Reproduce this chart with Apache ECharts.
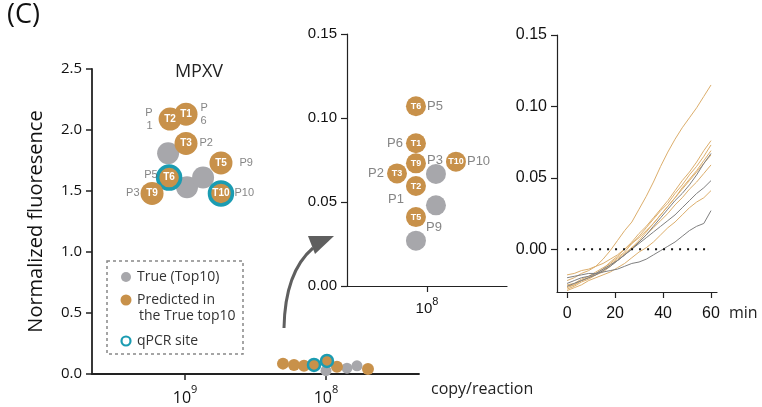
<!DOCTYPE html>
<html>
<head>
<meta charset="utf-8">
<script src="https://cdn.jsdelivr.net/npm/echarts@6/dist/echarts.min.js"></script>
<style>
  html, body { margin: 0; padding: 0; background: #ffffff; }
  #chart { width: 762px; height: 407px; }
</style>
</head>
<body>
<div id="chart"></div>
<script>
// ---- Data -----------------------------------------------------------------
// Predicted target sites (T) and their true rank (P), log10 copy/reaction and
// normalized fluorescence.
const predNames = ['T1', 'T2', 'T3', 'T5', 'T6', 'T9', 'T10'];
const predSites = ['P6', 'P1', 'P2', 'P9', 'P5', 'P3', 'P10'];
const qpcrSites = ['T6', 'T10'];

// High-load cluster (about 10^9 copies)
const highPredLog = [8.993, 9.106, 8.993, 8.745, 9.113, 9.234, 8.745];
const highPredFluo = [2.13, 2.09, 1.89, 1.73, 1.61, 1.48, 1.48];
const highTrueLog = [9.12, 8.986, 8.872];
const highTrueFluo = [1.81, 1.53, 1.61];

// Low-load cluster (about 10^8 copies)
const lowPredLog = [8.305, 7.922, 8.156, 7.702, 7.993, 8.227, 8.085];
const lowPredFluo = [0.085, 0.0595, 0.067, 0.041, 0.107, 0.073, 0.074];
const lowTrueLog = [7.851, 7.78, 8.0];
const lowTrueFluo = [0.048, 0.0667, 0.027];

// Zoomed view of the low-load cluster
const zoomPredLog = [8.069, 8.069, 8.1875, 8.069, 8.069, 8.069, 7.819];
const zoomTrueLog = [7.944, 7.944, 8.069];

// Axis ticks
const mainYTicks = [0, 0.5, 1.0, 1.5, 2.0, 2.5];
const logTicksMain = [8, 9];
const logTicksZoom = [8];
const zoomYTicks = [0, 0.05, 0.10, 0.15];
const timeTicks = [0, 20, 40, 60];

// Real-time fluorescence traces (min)
const traceTime = [0, 3, 6, 9, 12, 15, 18, 21, 24, 27, 30, 33, 36, 39, 42, 45, 48, 51, 54, 57, 60];
const tracePredA = [-0.022, -0.020, -0.017, -0.015, -0.012, -0.007, -0.001, 0.006, 0.013, 0.019, 0.028, 0.037, 0.047, 0.058, 0.068, 0.077, 0.085, 0.092, 0.099, 0.107, 0.115];
const tracePredB = [-0.027, -0.025, -0.022, -0.020, -0.017, -0.014, -0.009, -0.005, 0.000, 0.005, 0.011, 0.016, 0.022, 0.028, 0.034, 0.041, 0.048, 0.054, 0.061, 0.069, 0.076];
const tracePredC = [-0.025, -0.024, -0.021, -0.019, -0.016, -0.013, -0.010, -0.006, -0.002, 0.004, 0.009, 0.015, 0.021, 0.027, 0.032, 0.039, 0.045, 0.052, 0.058, 0.065, 0.073];
const tracePredD = [-0.018, -0.017, -0.015, -0.014, -0.012, -0.010, -0.007, -0.004, 0.000, 0.004, 0.008, 0.013, 0.018, 0.024, 0.030, 0.036, 0.043, 0.049, 0.055, 0.062, 0.069];
const tracePredE = [-0.028, -0.026, -0.023, -0.021, -0.018, -0.016, -0.012, -0.008, -0.004, 0.001, 0.006, 0.012, 0.018, 0.024, 0.030, 0.036, 0.042, 0.048, 0.054, 0.060, 0.066];
const tracePredF = [-0.026, -0.025, -0.022, -0.020, -0.018, -0.015, -0.011, -0.007, -0.003, 0.001, 0.005, 0.010, 0.015, 0.020, 0.025, 0.031, 0.036, 0.042, 0.047, 0.053, 0.059];
const tracePredG = [-0.029, -0.027, -0.025, -0.022, -0.020, -0.018, -0.016, -0.013, -0.010, -0.006, -0.002, 0.001, 0.005, 0.010, 0.015, 0.019, 0.024, 0.029, 0.033, 0.036, 0.041];
const traceTrueH = [-0.026, -0.024, -0.022, -0.020, -0.018, -0.015, -0.012, -0.008, -0.004, 0.000, 0.005, 0.010, 0.016, 0.022, 0.028, 0.034, 0.039, 0.045, 0.052, 0.060, 0.067];
const traceTrueI = [-0.024, -0.022, -0.020, -0.019, -0.017, -0.014, -0.011, -0.008, -0.004, 0.000, 0.004, 0.008, 0.012, 0.016, 0.020, 0.024, 0.029, 0.034, 0.039, 0.043, 0.048];
const traceTrueJ = [-0.020, -0.019, -0.018, -0.017, -0.017, -0.016, -0.015, -0.014, -0.012, -0.010, -0.009, -0.007, -0.004, -0.001, 0.002, 0.005, 0.009, 0.013, 0.016, 0.018, 0.027];
const baselineTime = [0, 60];
const baselineValue = [0, 0];

// ---- Styles ---------------------------------------------------------------
const ORANGE = '#c8914a';
const GRAY = '#a7a7ab';
const TEAL = '#1b9cb2';
const LINE_ORANGE = '#dcae6c';
const LINE_GRAY = '#7f7f80';
const AXIS = '#222222';
const SITE_COLOR = '#666666';
const FONT_MAIN = '"Open Sans", "Noto Sans", sans-serif';
const FONT_SUB = '"Liberation Sans", Arial, sans-serif';

// Placement of the P-rank labels around each circle
const siteLabelHigh = {
  P6: { position: 'right', distance: 3, text: 'P\n6' },
  P1: { position: 'left', distance: 6, text: 'P\n1' },
  P2: { position: 'right', distance: 2 },
  P9: { position: 'right', distance: 7 },
  P5: { position: 'left', distance: 0, offset: [0, -3] },
  P3: { position: 'left', distance: 1 },
  P10: { position: 'right', distance: 2 }
};
const siteLabelZoom = {
  P6: { position: 'left', distance: 3 },
  P1: { position: 'left', distance: 2, offset: [0, 13] },
  P2: { position: 'left', distance: 3 },
  P9: { position: 'right', distance: 0, offset: [0, 10] },
  P5: { position: 'right', distance: 1 },
  P3: { position: 'right', distance: 1, offset: [0, -3] },
  P10: { position: 'right', distance: 1 }
};

// ---- Helpers ----------------------------------------------------------------
function zip(xs, ys) { return xs.map((x, i) => [x, ys[i]]); }

function predItems(xs, ys, ringWidth) {
  return predNames.map((n, i) => {
    const ringed = ringWidth > 0 && qpcrSites.includes(n);
    return {
      name: n,
      value: [xs[i], ys[i]],
      itemStyle: ringed ? { borderColor: TEAL, borderWidth: ringWidth } : {},
      z: ringed ? 5 : 4
    };
  });
}

function siteItems(xs, ys, placement, fontSize) {
  return predSites.map((s, i) => {
    const p = placement[s];
    return {
      name: s,
      value: [xs[i], ys[i]],
      label: {
        show: true,
        position: p.position,
        distance: p.distance,
        offset: p.offset || [0, 0],
        formatter: p.text || s,
        color: SITE_COLOR,
        fontSize: fontSize,
        lineHeight: fontSize + 2,
        fontFamily: FONT_SUB
      }
    };
  });
}

function supLabel(v) { return '{b|10}{s|' + v + '}'; }

function valueAxisBase(grid) {
  return {
    gridIndex: grid,
    type: 'value',
    splitLine: { show: false },
    axisLine: { show: true, onZero: false, lineStyle: { color: AXIS, width: 1.2 } },
    axisTick: { show: true, length: 6, lineStyle: { color: AXIS, width: 1.2 } }
  };
}

// ---- Chart ----------------------------------------------------------------
const chart = echarts.init(document.getElementById('chart'), null, { renderer: 'canvas' });

const traceSeries = [
  [tracePredA, LINE_ORANGE], [tracePredB, LINE_ORANGE], [tracePredC, LINE_ORANGE],
  [tracePredD, LINE_ORANGE], [tracePredE, LINE_ORANGE], [tracePredF, LINE_ORANGE],
  [tracePredG, LINE_ORANGE],
  [traceTrueH, LINE_GRAY], [traceTrueI, LINE_GRAY], [traceTrueJ, LINE_GRAY]
].map(([vals, color]) => ({
  type: 'line',
  xAxisIndex: 2, yAxisIndex: 2,
  data: zip(traceTime, vals),
  showSymbol: false,
  silent: true,
  lineStyle: { color: color, width: 1 },
  z: color === LINE_GRAY ? 3 : 2
}));

const HIDDEN = 'rgba(0,0,0,0)';

const option = {
  animation: false,
  backgroundColor: '#ffffff',
  grid: [
    { left: 92, top: 69, width: 327, height: 305 },
    { left: 347, top: 34, width: 160, height: 252 },
    { left: 557, top: 35, width: 160, height: 257 }
  ],
  xAxis: [
    Object.assign(valueAxisBase(0), {
      min: 7.34, max: 9.66, inverse: true,
      axisLine: { show: true, onZero: false, lineStyle: { color: AXIS, width: 1.8 } },
      axisTick: { show: true, length: 6, customValues: logTicksMain, lineStyle: { color: AXIS, width: 1.5 } },
      axisLabel: {
        customValues: logTicksMain, margin: 8, formatter: supLabel,
        rich: {
          b: { fontSize: 16, fontFamily: FONT_MAIN, color: '#111', padding: [8, 0, 0, 0] },
          s: { fontSize: 11, fontFamily: FONT_MAIN, color: '#111', padding: [0, 0, 8, 0] }
        }
      }
    }),
    Object.assign(valueAxisBase(1), {
      min: 7.5, max: 8.5, inverse: true,
      axisTick: { show: true, length: 6, customValues: logTicksZoom, lineStyle: { color: AXIS, width: 1.2 } },
      axisLabel: {
        customValues: logTicksZoom, margin: 8, formatter: supLabel,
        rich: {
          b: { fontSize: 15, fontFamily: FONT_SUB, color: '#111', padding: [7, 0, 0, 0] },
          s: { fontSize: 11, fontFamily: FONT_SUB, color: '#111', padding: [0, 0, 7, 0] }
        }
      }
    }),
    Object.assign(valueAxisBase(2), {
      min: -4.2, max: 62.5,
      axisTick: { show: true, length: 6, customValues: timeTicks, lineStyle: { color: AXIS, width: 1.2 } },
      axisLabel: {
        customValues: timeTicks, margin: 14,
        fontSize: 16, fontFamily: FONT_SUB, color: '#111'
      }
    })
  ],
  yAxis: [
    Object.assign(valueAxisBase(0), {
      min: mainYTicks[0], max: mainYTicks[mainYTicks.length - 1], interval: 0.5,
      axisLine: { show: true, onZero: false, lineStyle: { color: AXIS, width: 1.8 } },
      axisTick: { show: true, length: 6, lineStyle: { color: AXIS, width: 1.5 } },
      axisLabel: { margin: 10, fontSize: 15, fontFamily: FONT_MAIN, color: '#111', formatter: v => v.toFixed(1) },
      name: 'Normalized fluoresence',
      nameLocation: 'middle',
      nameGap: 46,
      nameTextStyle: { fontSize: 20, fontFamily: FONT_MAIN, color: '#111' }
    }),
    Object.assign(valueAxisBase(1), {
      min: zoomYTicks[0], max: zoomYTicks[zoomYTicks.length - 1], interval: 0.05,
      axisLabel: { margin: 10, fontSize: 15, fontFamily: FONT_SUB, color: '#111', formatter: v => v.toFixed(2) }
    }),
    Object.assign(valueAxisBase(2), {
      min: -0.03, max: 0.15,
      axisTick: { show: true, length: 6, customValues: zoomYTicks, lineStyle: { color: AXIS, width: 1.2 } },
      axisLabel: {
        customValues: zoomYTicks, margin: 10, fontSize: 16, fontFamily: FONT_SUB, color: '#111',
        formatter: v => v.toFixed(2)
      }
    })
  ],
  series: [
    // --- main panel, high-load cluster
    {
      type: 'scatter', xAxisIndex: 0, yAxisIndex: 0, silent: true,
      data: zip(highTrueLog, highTrueFluo), symbolSize: 22,
      itemStyle: { color: GRAY, opacity: 1 }, z: 3
    },
    {
      type: 'scatter', xAxisIndex: 0, yAxisIndex: 0, silent: true,
      data: predItems(highPredLog, highPredFluo, 3.5), symbolSize: 23,
      itemStyle: { color: ORANGE, opacity: 1 }, z: 4,
      label: {
        show: true, position: 'inside', formatter: '{b}',
        color: '#ffffff', fontSize: 10, fontWeight: 'bold', fontFamily: FONT_SUB
      }
    },
    {
      type: 'scatter', xAxisIndex: 0, yAxisIndex: 0, silent: true,
      data: siteItems(highPredLog, highPredFluo, siteLabelHigh, 11), symbolSize: 23,
      itemStyle: { color: HIDDEN, borderWidth: 0 }, z: 6
    },
    // --- main panel, low-load cluster
    {
      type: 'scatter', xAxisIndex: 0, yAxisIndex: 0, silent: true,
      data: zip(lowTrueLog, lowTrueFluo), symbolSize: 11,
      itemStyle: { color: GRAY, opacity: 1 }, z: 3
    },
    {
      type: 'scatter', xAxisIndex: 0, yAxisIndex: 0, silent: true,
      data: predItems(lowPredLog, lowPredFluo, 2.5), symbolSize: 12,
      itemStyle: { color: ORANGE, opacity: 1 }, z: 4
    },
    // --- zoomed view
    {
      type: 'scatter', xAxisIndex: 1, yAxisIndex: 1, silent: true,
      data: zip(zoomTrueLog, lowTrueFluo), symbolSize: 20,
      itemStyle: { color: GRAY, opacity: 1 }, z: 3
    },
    {
      type: 'scatter', xAxisIndex: 1, yAxisIndex: 1, silent: true,
      data: predItems(zoomPredLog, lowPredFluo, 0), symbolSize: 20,
      itemStyle: { color: ORANGE, opacity: 1 }, z: 4,
      label: {
        show: true, position: 'inside', formatter: '{b}',
        color: '#ffffff', fontSize: 9, fontWeight: 'bold', fontFamily: FONT_SUB
      }
    },
    {
      type: 'scatter', xAxisIndex: 1, yAxisIndex: 1, silent: true,
      data: siteItems(zoomPredLog, lowPredFluo, siteLabelZoom, 13), symbolSize: 20,
      itemStyle: { color: HIDDEN, borderWidth: 0 }, z: 6
    },
    // --- fluorescence traces
    ...traceSeries,
    {
      type: 'line', xAxisIndex: 2, yAxisIndex: 2, silent: true,
      data: zip(baselineTime, baselineValue), showSymbol: false,
      lineStyle: { color: '#111111', width: 2, type: [2, 6] }, z: 5
    }
  ],
  graphic: [
    { type: 'text', left: 7, top: 2, style: { text: '(C)', fontSize: 27, fontFamily: FONT_MAIN, fill: '#111' } },
    { type: 'text', x: 199, y: 72, style: { text: 'MPXV', fontSize: 18, fontFamily: FONT_MAIN, fill: '#222', align: 'center', verticalAlign: 'middle' } },
    { type: 'text', x: 431, y: 389, style: { text: 'copy/reaction', fontSize: 16, fontFamily: FONT_MAIN, fill: '#222', verticalAlign: 'middle' } },
    { type: 'text', x: 729, y: 313, style: { text: 'min', fontSize: 16, fontFamily: FONT_MAIN, fill: '#222', verticalAlign: 'middle' } },
    // arrow pointing from the low-load cluster to its zoomed view
    {
      type: 'bezierCurve', silent: true,
      shape: { x1: 284, y1: 328, cpx1: 285, cpy1: 272, x2: 313, y2: 248 },
      style: { stroke: '#5f5f5f', lineWidth: 3, fill: 'none' }
    },
    {
      type: 'polygon', silent: true,
      shape: { points: [[308, 236], [334, 236], [315, 254]] },
      style: { fill: '#5f5f5f' }
    },
    // legend
    {
      type: 'rect', silent: true,
      shape: { x: 107, y: 261, width: 136, height: 93 },
      style: { fill: 'none', stroke: '#888888', lineWidth: 1.5, lineDash: [3, 3] }
    },
    { type: 'circle', shape: { cx: 126, cy: 277, r: 5 }, style: { fill: GRAY } },
    { type: 'text', x: 137, y: 277, style: { text: 'True (Top10)', fontSize: 14, fontFamily: FONT_MAIN, fill: '#333', verticalAlign: 'middle' } },
    { type: 'circle', shape: { cx: 126, cy: 300, r: 5.5 }, style: { fill: ORANGE } },
    { type: 'text', x: 137, y: 300, style: { text: 'Predicted in', fontSize: 14, fontFamily: FONT_MAIN, fill: '#333', verticalAlign: 'middle' } },
    { type: 'text', x: 139, y: 316, style: { text: 'the True top10', fontSize: 14, fontFamily: FONT_MAIN, fill: '#333', verticalAlign: 'middle' } },
    { type: 'circle', shape: { cx: 126, cy: 341, r: 4.5 }, style: { fill: '#ffffff', stroke: TEAL, lineWidth: 2.2 } },
    { type: 'text', x: 137, y: 341, style: { text: 'qPCR site', fontSize: 14, fontFamily: FONT_MAIN, fill: '#333', verticalAlign: 'middle' } }
  ]
};

chart.setOption(option);
</script>
</body>
</html>
